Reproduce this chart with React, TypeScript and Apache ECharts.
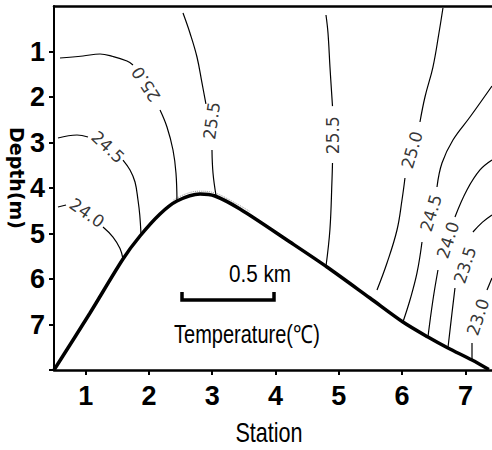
import { useEffect, useRef } from "react";
import * as echarts from "echarts";

// Axis ticks
const stationTicks = [1, 2, 3, 4, 5, 6, 7];
const depthTicks = [1, 2, 3, 4, 5, 6, 7];
const depthTickMarks = [1, 2, 3, 4, 5, 6, 7, 8];

// Bottom profile [station, depth(m)]
const bottomProfile = [
  [0.5, 8.0], [1.069, 6.747], [1.59, 5.56], [1.859, 5.055], [2.175, 4.571],
  [2.443, 4.286], [2.807, 4.132], [3.043, 4.176], [3.438, 4.462], [4.228, 5.187],
  [4.813, 5.736], [5.492, 6.418], [6.013, 6.945], [6.408, 7.275], [6.724, 7.516],
  [7.104, 7.78], [7.37, 7.99],
];
const peakOutline = [
  [2.38, 4.27], [2.6, 4.12], [2.81, 4.07], [3.04, 4.11], [3.3, 4.28], [3.6, 4.52],
];

// Isotherm segments (split where the label sits)
const iso250West_a = [[0.595, 1.143], [0.958, 1.099], [1.227, 1.055], [1.432, 1.11], [1.653, 1.209], [1.748, 1.297]];
const iso250West_b = [[2.175, 2.286], [2.285, 2.659], [2.38, 3.165], [2.427, 3.67], [2.443, 4.286]];
const iso255West_a = [[2.538, 0.154], [2.648, 0.593], [2.759, 1.121], [2.838, 1.692], [2.9, 2.15]];
const iso255West_b = [[2.996, 3.165], [3.012, 3.67], [3.06, 4.17]];
const iso245West_a = [[0.563, 2.901], [0.863, 2.835], [1.037, 2.879]];
const iso245West_b = [[1.59, 3.385], [1.701, 3.604], [1.78, 3.868], [1.827, 4.264], [1.855, 4.593], [1.875, 5.03]];
const iso240West_a = [[0.563, 4.418], [0.69, 4.374]];
const iso240West_b = [[1.274, 4.857], [1.432, 5.077], [1.543, 5.33], [1.59, 5.56]];
const iso255East_a = [[4.797, 0.198], [4.829, 0.593], [4.86, 1.341], [4.9, 2.2]];
const iso255East_b = [[4.9, 3.45], [4.892, 3.824], [4.86, 4.9], [4.797, 5.72]];
const iso250East_a = [[6.645, 0.044], [6.582, 0.593], [6.487, 1.341], [6.361, 2.0], [6.282, 2.549]];
const iso250East_b = [[6.045, 3.78], [5.998, 4.264], [5.919, 4.923], [5.761, 5.648], [5.603, 6.242]];
const iso245East_a = [[7.42, 1.758], [7.072, 2.44], [6.803, 2.945], [6.63, 3.451], [6.551, 3.978]];
const iso245East_b = [[6.314, 5.187], [6.235, 5.868], [6.124, 6.462], [6.013, 6.945]];
const iso240East_a = [[7.42, 3.385], [7.23, 3.604], [7.024, 4.044], [6.835, 4.637]];
const iso240East_b = [[6.566, 5.802], [6.487, 6.462], [6.408, 7.275]];
const iso235East_a = [[7.42, 4.593], [7.27, 4.75], [7.119, 4.967]];
const iso235East_b = [[6.835, 6.198], [6.788, 6.747], [6.724, 7.516]];
const iso230East_a = [[7.42, 5.978], [7.341, 6.242]];
const iso230East_b = [[7.104, 7.407], [7.104, 7.78]];

const isoSegments = [
  iso250West_a, iso250West_b, iso255West_a, iso255West_b, iso245West_a, iso245West_b,
  iso240West_a, iso240West_b, iso255East_a, iso255East_b, iso250East_a, iso250East_b,
  iso245East_a, iso245East_b, iso240East_a, iso240East_b, iso235East_a, iso235East_b,
  iso230East_a, iso230East_b,
];

// Isotherm labels: text, position [station, depth], angle (deg)
const labelTexts = ["25.0", "25.5", "24.5", "24.0", "25.5", "25.0", "24.5", "24.0", "23.5", "23.0"];
const labelPositions = [
  [1.953, 1.72], [2.99, 2.52], [1.353, 3.099], [1.021, 4.549], [4.908, 2.84],
  [6.156, 3.165], [6.456, 4.549], [6.724, 5.143], [6.993, 5.692], [7.198, 6.835],
];
const labelAngles = [123, 82, -43, -35, 90, 74, 73, 72, 72, 72];

export default function App() {
  const ref = useRef<HTMLDivElement>(null);
  useEffect(() => {
    if (!ref.current) return;
    const chart = echarts.init(ref.current, null, { renderer: "svg" });
    const sans = "'Liberation Sans', Arial, sans-serif";
    const lineSeries = isoSegments.map((seg) => ({
      type: "line",
      data: seg,
      smooth: 0.4,
      symbol: "none",
      silent: true,
      lineStyle: { color: "#000", width: 1.2 },
      z: 2,
    }));
    chart.setOption({
      animation: false,
      backgroundColor: "#fff",
      grid: { left: 54, right: 0, top: 6, bottom: 80 },
      xAxis: [
        {
          type: "value",
          min: 0.5,
          max: 7.42,
          position: "bottom",
          axisLine: { onZero: false, lineStyle: { color: "#000", width: 2.5 } },
          axisTick: { show: true, customValues: stationTicks, length: 5, lineStyle: { color: "#000", width: 2 } },
          axisLabel: {
            customValues: stationTicks,
            margin: 12,
            color: "#000",
            fontFamily: sans,
            fontSize: 27,
            fontWeight: "bold",
          },
          splitLine: { show: false },
        },
        {
          type: "value",
          min: 0.5,
          max: 7.42,
          position: "top",
          axisLine: { onZero: false, lineStyle: { color: "#000", width: 2.5 } },
          axisTick: { show: false },
          axisLabel: { show: false },
          splitLine: { show: false },
        },
      ],
      yAxis: {
        type: "value",
        inverse: true,
        min: 0,
        max: 8,
        axisLine: { onZero: false, lineStyle: { color: "#000", width: 2 } },
        axisTick: { show: true, customValues: depthTickMarks, length: 5, lineStyle: { color: "#000", width: 2 } },
        axisLabel: {
          customValues: depthTicks,
          margin: 9,
          color: "#000",
          fontFamily: sans,
          fontSize: 27,
          fontWeight: "bold",
        },
        splitLine: { show: false },
      },
      graphic: [
        {
          type: "text",
          x: 17,
          y: 178,
          rotation: -Math.PI / 2,
          style: {
            text: "Depth(m)",
            fontFamily: "'DejaVu Sans', sans-serif",
            fontWeight: "bold",
            fontSize: 19,
            fill: "#000",
            align: "center",
            verticalAlign: "middle",
          },
        },
        {
          type: "text",
          x: 269,
          y: 433,
          scaleX: 0.8,
          style: {
            text: "Station",
            fontFamily: sans,
            fontSize: 27,
            fill: "#000",
            align: "center",
            verticalAlign: "middle",
          },
        },
        {
          type: "text",
          x: 260,
          y: 274,
          scaleX: 0.9,
          style: {
            text: "0.5 km",
            fontFamily: sans,
            fontSize: 23,
            fill: "#000",
            align: "center",
            verticalAlign: "middle",
          },
        },
        {
          type: "polyline",
          shape: { points: [[182, 292], [182, 300], [274, 300], [274, 292]] },
          style: { stroke: "#000", lineWidth: 3.5, fill: null },
        },
        {
          type: "text",
          x: 247,
          y: 335,
          scaleX: 0.8,
          style: {
            text: "Temperature(℃)",
            fontFamily: sans,
            fontSize: 25,
            fill: "#000",
            align: "center",
            verticalAlign: "middle",
          },
        },
      ],
      series: [
        ...lineSeries,
        {
          type: "line",
          data: peakOutline,
          smooth: 0.4,
          symbol: "none",
          silent: true,
          lineStyle: { color: "#999", width: 1, type: "dotted" },
          z: 1,
        },
        {
          type: "line",
          data: bottomProfile,
          smooth: 0.3,
          symbol: "none",
          silent: true,
          lineStyle: { color: "#000", width: 3.5 },
          z: 3,
        },
        {
          type: "scatter",
          symbolSize: 0,
          silent: true,
          data: labelTexts.map((t, i) => ({
            value: labelPositions[i],
            label: { rotate: labelAngles[i], formatter: t },
          })),
          label: {
            show: true,
            position: "inside",
            color: "#000",
            fontFamily: "'DejaVu Sans', sans-serif",
            fontSize: 17,
          },
          z: 4,
        },
      ],
    });
    return () => chart.dispose();
  }, []);
  return <div ref={ref} style={{ position: "fixed", left: 0, top: 0, width: 492, height: 450 }} />;
}
